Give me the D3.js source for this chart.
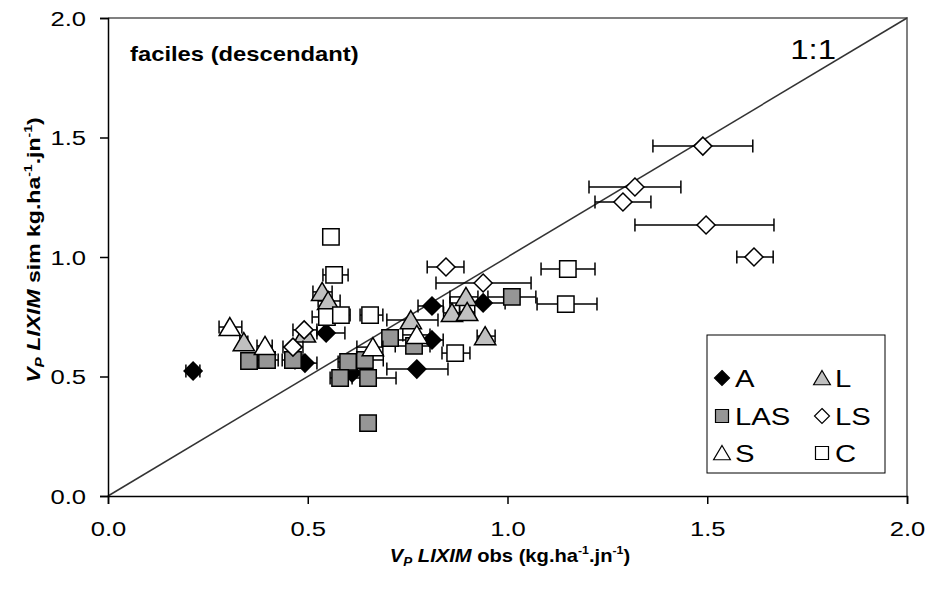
<!DOCTYPE html>
<html>
<head>
<meta charset="utf-8">
<script src="https://cdn.jsdelivr.net/npm/d3@7"></script>
<style>
  html, body { margin: 0; padding: 0; background: #fff; }
  svg { display: block; }
  text { font-family: "Liberation Sans", Arial, sans-serif; fill: #000; }
</style>
</head>
<body>
<svg id="chart" width="929" height="593"></svg>
<script>
// ---- DATA: [x obs, y sim, x error low, x error high] ----
const seriesNames = ["A", "L", "LAS", "LS", "S", "C"];
const A = [
  [0.213, 0.523, 0.195, 0.230],
  [0.546, 0.682, 0.523, 0.593],
  [0.493, 0.556, 0.468, 0.523],
  [0.811, 0.795, 0.776, 0.839],
  [0.939, 0.808, 0.856, 0.994],
  [0.811, 0.653, 0.726, 0.839],
  [0.773, 0.531, 0.698, 0.851],
  [0.611, 0.515, 0.581, 0.643]
];
const L = [
  [0.340, 0.644, 0.330, 0.350],
  [0.536, 0.854, 0.513, 0.561],
  [0.551, 0.816, 0.526, 0.581],
  [0.493, 0.680, 0.480, 0.506],
  [0.758, 0.736, 0.698, 0.826],
  [0.861, 0.766, 0.840, 0.880],
  [0.896, 0.833, 0.856, 0.926],
  [0.899, 0.770, 0.880, 0.918],
  [0.944, 0.669, 0.924, 0.969]
];
const LAS = [
  [0.353, 0.565, 0.340, 0.366],
  [0.398, 0.569, 0.373, 0.426],
  [0.463, 0.569, 0.436, 0.488],
  [0.601, 0.561, 0.576, 0.631],
  [0.581, 0.494, 0.556, 0.611],
  [0.643, 0.569, 0.606, 0.689],
  [0.651, 0.494, 0.593, 0.721],
  [0.706, 0.661, 0.690, 0.722],
  [0.766, 0.628, 0.719, 0.806],
  [1.011, 0.833, 0.951, 1.071],
  [0.651, 0.305, 0.636, 0.668]
];
const LS = [
  [0.463, 0.623, 0.438, 0.488],
  [0.491, 0.695, 0.463, 0.523],
  [0.846, 0.958, 0.799, 0.891],
  [0.939, 0.891, 0.821, 1.059],
  [1.489, 1.464, 1.364, 1.614],
  [1.319, 1.293, 1.204, 1.434],
  [1.289, 1.230, 1.219, 1.359],
  [1.497, 1.134, 1.319, 1.667],
  [1.617, 1.000, 1.574, 1.665]
];
const S = [
  [0.305, 0.707, 0.278, 0.335],
  [0.393, 0.628, 0.373, 0.411],
  [0.773, 0.674, 0.738, 0.806],
  [0.663, 0.623, 0.623, 0.688]
];
const C = [
  [0.558, 1.084, 0.558, 0.558],
  [0.566, 0.925, 0.538, 0.601],
  [0.548, 0.749, 0.511, 0.581],
  [0.583, 0.757, 0.560, 0.606],
  [0.656, 0.757, 0.631, 0.688],
  [0.869, 0.598, 0.836, 0.906],
  [1.151, 0.950, 1.084, 1.219],
  [1.146, 0.803, 1.074, 1.224]
];
const xTicks = [0, 0.5, 1.0, 1.5, 2.0];
const yTicks = [0, 0.5, 1.0, 1.5, 2.0];

// ---- styles per series ----
const seriesData = { A, L, LAS, LS, S, C };
const seriesStyle = {
  A:   { shape: "diamond",  fill: "#000000" },
  L:   { shape: "triangle", fill: "#c0c0c0" },
  LAS: { shape: "square",   fill: "#969696" },
  LS:  { shape: "diamond",  fill: "#ffffff" },
  S:   { shape: "triangle", fill: "#ffffff" },
  C:   { shape: "square",   fill: "#ffffff" }
};

const SX = 1.22; // horizontal stretch of the original lettering
const svg = d3.select("#chart");
const mLeft = 108, mRight = 907, mTop = 18, mBottom = 496;
const x = d3.scaleLinear().domain([0, 2]).range([mLeft, mRight]);
const y = d3.scaleLinear().domain([0, 2]).range([mBottom, mTop]);

function shapePath(shape, s) {
  if (shape === "diamond") return `M0,${-s}L${s},0L0,${s}L${-s},0Z`;
  if (shape === "square") return `M${-s},${-s}H${s}V${s}H${-s}Z`;
  const h = s * 1.0;
  return `M0,${-h}L${s * 1.12},${h * 0.9}L${-s * 1.12},${h * 0.9}Z`;
}
function markerSize(shape) {
  return shape === "diamond" ? 9 : shape === "square" ? 8.2 : 9.5;
}
function placeText(sel, px, py, sx) {
  return sel.attr("transform", `translate(${px},${py}) scale(${sx || SX},1)`);
}

// plot frame (top + right in gray)
svg.append("path")
  .attr("d", `M${mLeft},${mTop}H${mRight}V${mBottom}`)
  .attr("fill", "none").attr("stroke", "#808080").attr("stroke-width", 2);

// 1:1 line
svg.append("line")
  .attr("x1", x(0)).attr("y1", y(0)).attr("x2", x(2)).attr("y2", y(2))
  .attr("stroke", "#333").attr("stroke-width", 1.5);

// axes
const xAxis = d3.axisBottom(x).tickValues(xTicks).tickFormat(d3.format(".1f")).tickSize(8).tickPadding(0);
const yAxis = d3.axisLeft(y).tickValues(yTicks).tickFormat(d3.format(".1f")).tickSize(8).tickPadding(0);
const gx = svg.append("g").attr("transform", `translate(0,${mBottom})`).call(xAxis);
const gy = svg.append("g").attr("transform", `translate(${mLeft},0)`).call(yAxis);
[gx, gy].forEach(g => {
  g.select(".domain").attr("stroke", "#000").attr("stroke-width", 1.5);
  g.selectAll(".tick line").attr("stroke", "#000").attr("stroke-width", 1.5);
  g.selectAll(".tick text").style("font-family", "Liberation Sans, Arial, sans-serif")
    .style("font-size", "21px").attr("fill", "#000");
});
gx.selectAll(".tick text").attr("x", 0).attr("y", 0).attr("dy", 0)
  .attr("transform", `translate(0,40) scale(${SX},1)`);
gy.selectAll(".tick text").attr("x", 0).attr("y", 0).attr("dy", "0.35em")
  .attr("transform", `translate(-22,0) scale(${SX},1)`);

// points + error bars
const plot = svg.append("g");
seriesNames.forEach(name => {
  const st = seriesStyle[name];
  const g = plot.append("g");
  const data = seriesData[name];
  const eb = g.selectAll(".eb").data(data.filter(d => d[3] - d[2] > 0.001)).enter().append("g");
  eb.append("line").attr("x1", d => x(d[2])).attr("x2", d => x(d[3]))
    .attr("y1", d => y(d[1])).attr("y2", d => y(d[1]))
    .attr("stroke", "#000").attr("stroke-width", 1.5);
  eb.append("line").attr("x1", d => x(d[2])).attr("x2", d => x(d[2]))
    .attr("y1", d => y(d[1]) - 6.5).attr("y2", d => y(d[1]) + 6.5)
    .attr("stroke", "#000").attr("stroke-width", 1.5);
  eb.append("line").attr("x1", d => x(d[3])).attr("x2", d => x(d[3]))
    .attr("y1", d => y(d[1]) - 6.5).attr("y2", d => y(d[1]) + 6.5)
    .attr("stroke", "#000").attr("stroke-width", 1.5);
  g.selectAll(".pt").data(data).enter().append("path")
    .attr("transform", d => `translate(${x(d[0])},${y(d[1])})`)
    .attr("d", shapePath(st.shape, markerSize(st.shape)))
    .attr("fill", st.fill).attr("stroke", "#000").attr("stroke-width", 1.5);
});

// annotation texts
placeText(svg.append("text"), 130, 61)
  .style("font-size", "19.5px").style("font-weight", "bold")
  .text("faciles (descendant)");
placeText(svg.append("text"), 836, 59).attr("text-anchor", "end")
  .style("font-size", "27px").text("1:1");

// axis titles
const xt = placeText(svg.append("text"), 510, 562, 1.12).attr("text-anchor", "middle")
  .style("font-size", "18px").style("font-weight", "bold");
xt.append("tspan").style("font-style", "italic").text("V");
xt.append("tspan").style("font-style", "italic").style("font-size", "12px").attr("dy", 4).text("P");
xt.append("tspan").attr("dy", -4).style("font-style", "italic").text(" LIXIM");
xt.append("tspan").text(" obs (kg.ha");
xt.append("tspan").style("font-size", "11px").attr("dy", -8).text("-1");
xt.append("tspan").attr("dy", 8).text(".jn");
xt.append("tspan").style("font-size", "11px").attr("dy", -8).text("-1");
xt.append("tspan").attr("dy", 8).text(")");

const yt = svg.append("text").attr("transform", `translate(40,250) rotate(-90) scale(1.28,1)`)
  .attr("text-anchor", "middle")
  .style("font-size", "18px").style("font-weight", "bold");
yt.append("tspan").style("font-style", "italic").text("V");
yt.append("tspan").style("font-style", "italic").style("font-size", "12px").attr("dy", 4).text("P");
yt.append("tspan").attr("dy", -4).style("font-style", "italic").text(" LIXIM");
yt.append("tspan").text(" sim kg.ha");
yt.append("tspan").style("font-size", "11px").attr("dy", -8).text("-1");
yt.append("tspan").attr("dy", 8).text(".jn");
yt.append("tspan").style("font-size", "11px").attr("dy", -8).text("-1");
yt.append("tspan").attr("dy", 8).text(")");

// legend
const lg = svg.append("g");
lg.append("rect").attr("x", 707).attr("y", 335).attr("width", 178).attr("height", 138)
  .attr("fill", "#fff").attr("stroke", "#000").attr("stroke-width", 1);
const legendCols = [722, 822];
const legendRows = [378, 416, 453];
seriesNames.forEach((name, i) => {
  const st = seriesStyle[name];
  const cx = legendCols[i % 2], cy = legendRows[Math.floor(i / 2)];
  lg.append("path").attr("transform", `translate(${cx},${cy})`)
    .attr("d", shapePath(st.shape, st.shape === "square" ? 6.5 : 7.5))
    .attr("fill", st.fill).attr("stroke", "#000").attr("stroke-width", 1.2);
  placeText(lg.append("text"), cx + 13, cy + 9)
    .style("font-size", "24px").text(name);
});
</script>
</body>
</html>
